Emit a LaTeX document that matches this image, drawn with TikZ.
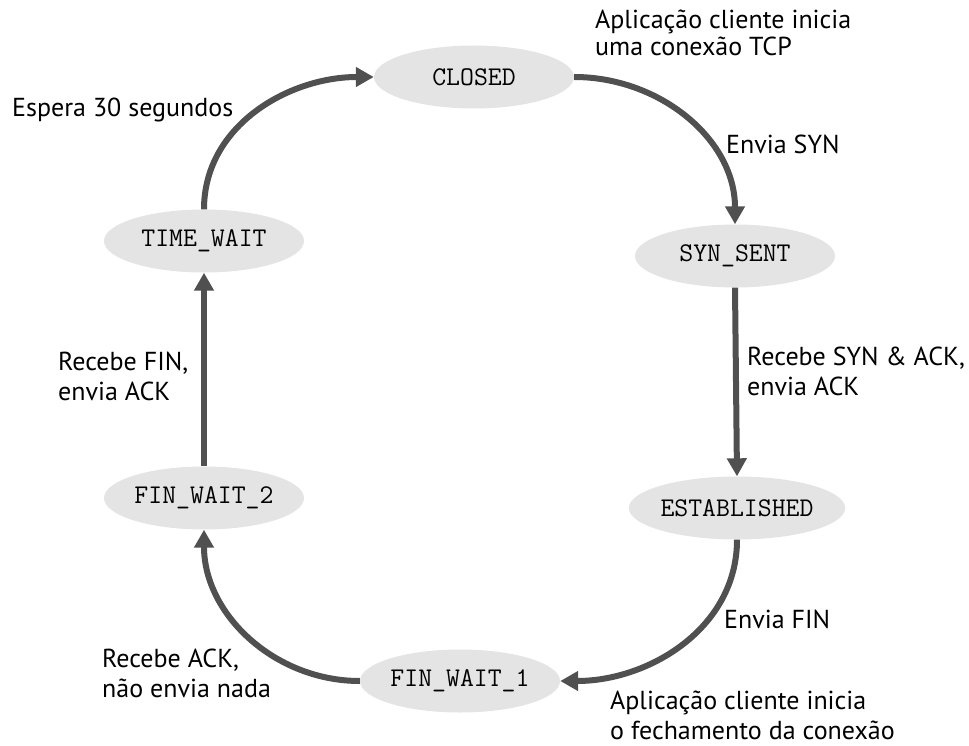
\documentclass[tikz,border=0pt]{standalone}
\usepackage{fontspec}
\setmainfont{PT Sans}
\usetikzlibrary{arrows.meta,shapes.geometric}

\definecolor{statefill}{HTML}{E4E4E4}
\definecolor{arrowgray}{HTML}{505050}

\tikzset{
  tcpstate/.style={ellipse, fill=statefill, minimum width=200pt, minimum height=63pt,
    inner sep=0pt, font=\ttfamily\fontsize{27}{29}\selectfont},
  trans/.style={line width=6pt, draw=arrowgray,
    -{Triangle[length=18pt,width=19pt]}},
  % labels are placed by the baseline of their last line
  lbl/.style={anchor=base west, align=left, inner sep=0pt,
    font=\fontsize{26}{30}\selectfont}
}

\begin{document}
\begin{tikzpicture}[x=1pt,y=-1pt]
  \useasboundingbox (0,0) rectangle (969,746);

  % states of the TCP client
  \node[tcpstate] (closed) at (474,77)  {CLOSED};
  \node[tcpstate] (syn)    at (735,256) {SYN\_SENT};
  \node[tcpstate] (est)    at (737,508) {ESTABLISHED};
  \node[tcpstate] (fw1)    at (460,681) {FIN\_WAIT\_1};
  \node[tcpstate] (fw2)    at (204,498) {FIN\_WAIT\_2};
  \node[tcpstate] (tw)     at (204,241) {TIME\_WAIT};

  % transitions
  \draw[trans] (closed.east) to[out=0,in=90] (syn.north);
  \draw[trans] (syn.south) -- (est.north);
  \draw[trans] (est.south) to[out=-90,in=0] (fw1.east);
  \draw[trans] (fw1.west) to[out=180,in=-90] (fw2.south);
  \draw[trans] (fw2.north) -- (tw.south);
  \draw[trans] (tw.north) to[out=90,in=180] (closed.west);

  % transition labels
  \node[lbl, font=\fontsize{26}{27}\selectfont] (l1) at (595,56)
       {Aplicação cliente inicia\\uma conexão TCP};
  \node[lbl] (l2) at (726,154) {Envia SYN};
  \node[lbl] (l3) at (747,395) {Recebe SYN \& ACK,\\envia ACK};
  \node[lbl] (l4) at (724,628) {Envia FIN};
  \node[lbl] (l5) at (610,739) {Aplicação cliente inicia\\o fechamento da conexão};
  \node[lbl] (l6) at (102,697) {Recebe ACK,\\não envia nada};
  \node[lbl] (l7) at (58,400)  {Recebe FIN,\\envia ACK};
  \node[lbl] (l8) at (12,117)  {Espera 30 segundos};
\end{tikzpicture}
\end{document}
